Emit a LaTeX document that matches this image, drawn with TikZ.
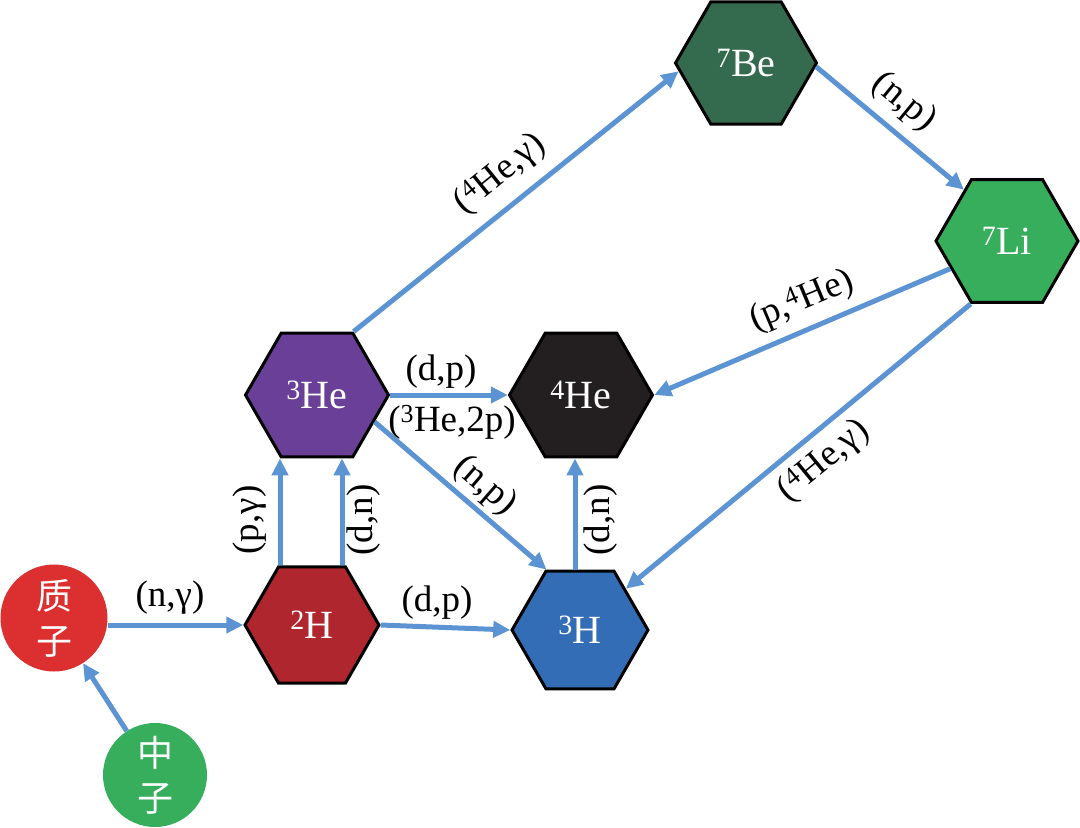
\documentclass[tikz,border=0pt]{standalone}
\usepackage{fontspec}
\setmainfont{Liberation Serif}
\newfontfamily\tms{Liberation Serif}
\newfontfamily\cjk{Noto Sans CJK SC}
\usetikzlibrary{shapes.geometric,arrows.meta}
\definecolor{arrblue}{HTML}{5B93D3}
\definecolor{cpro}{HTML}{DC2F30}
\definecolor{cneu}{HTML}{37AE5C}
\definecolor{ch2}{HTML}{B0262E}
\definecolor{che3}{HTML}{6A3F98}
\definecolor{che4}{HTML}{231F20}
\definecolor{ch3}{HTML}{336DB5}
\definecolor{cbe7}{HTML}{346B4E}
\definecolor{cli7}{HTML}{37AE5C}
\begin{document}
\begin{tikzpicture}[x=1pt,y=-1pt,
  hexa/.style={regular polygon, regular polygon sides=6, draw=black, line width=3pt,
    inner sep=0pt, text=white, font=\tms\fontsize{40}{40}\selectfont},
  ball/.style={circle, inner sep=0pt, text=white, align=center,
    font=\cjk\fontsize{36}{45}\selectfont},
  arr/.style={draw=arrblue, line width=5pt, -{Triangle[length=17pt,width=16pt]}},
  lab/.style={font=\tms\fontsize{37}{37}\selectfont, inner sep=0pt}]
\useasboundingbox (0,0) rectangle (1080,828);

% particles
\node[ball, fill=cpro, minimum size=107pt] (p) at (54,618) {质\\子};
\node[ball, fill=cneu, minimum size=104pt] (n) at (155,775) {中\\子};

% nuclei
\node[hexa, fill=ch2,  minimum size=134pt] (h2)  at (312,625) {\textsuperscript{2}H};
\node[hexa, fill=ch3,  minimum size=136pt] (h3)  at (580,630) {\textsuperscript{3}H};
\node[hexa, fill=che3, minimum size=143pt] (he3) at (317,395) {\textsuperscript{3}He};
\node[hexa, fill=che4, minimum size=143pt] (he4) at (581,395) {\textsuperscript{4}He};
\node[hexa, fill=cbe7, minimum size=141pt] (be7) at (746,63)  {\textsuperscript{7}Be};
\node[hexa, fill=cli7, minimum size=142pt] (li7) at (1007,241) {\textsuperscript{7}Li};

% connectors
\draw[arr] (n) -- (p);
\draw[arr] (p.east |- h2.west) -- (h2.west);
\draw[arr] (h2.east) -- (h3.west);
\draw[arr] ([xshift=-32pt]h2.north) -- ([xshift=-32pt]h2.north |- he3.south);
\draw[arr] ([xshift=30pt]h2.north) -- ([xshift=30pt]h2.north |- he3.south);
\draw[arr] (he3.east) -- (he4.west);
\draw[arr] (he3.-25) -- (h3.119);
\draw[arr] ([xshift=-5pt]h3.north) -- ([xshift=-5pt]h3.north |- he4.south);
\draw[arr] (he3.60) -- (be7.187);
\draw[arr] (be7.-3) -- (li7.130);
\draw[arr] (li7.206) -- (he4.east);
\draw[arr] (li7.240) -- (h3.42);

% labels
\node[lab] (l1)  at (170,598) {(n,γ)};
\node[lab] (l2)  at (437,603) {(d,p)};
\node[lab, rotate=90] (l3) at (250,520) {(p,γ)};
\node[lab, rotate=90] (l4) at (364,520) {(d,n)};
\node[lab] (l5)  at (441,372) {(d,p)};
\node[lab] (l6)  at (452,422) {(\textsuperscript{3}He,2p)};
\node[lab, rotate=-41] (l7) at (485,486) {(n,p)};
\node[lab, rotate=90] (l8) at (601,520) {(d,n)};
\node[lab, rotate=39] (l9) at (500,174) {(\textsuperscript{4}He,γ)};
\node[lab, rotate=-39.5] (l10) at (904,102) {(n,p)};
\node[lab, rotate=22.8] (l11) at (802,301) {(p,\textsuperscript{4}He)};
\node[lab, rotate=39.5] (l12) at (824,461) {(\textsuperscript{4}He,γ)};
\end{tikzpicture}
\end{document}
